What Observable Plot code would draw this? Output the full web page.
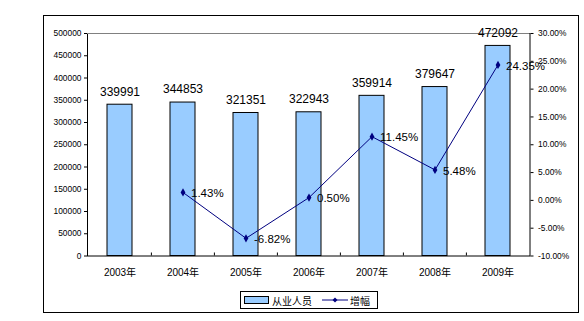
<!DOCTYPE html>
<html>
<head>
<meta charset="utf-8">
<script src="https://cdn.jsdelivr.net/npm/d3@7"></script>
<script src="https://cdn.jsdelivr.net/npm/@observablehq/plot@0.6"></script>
<style>
  html, body { margin: 0; padding: 0; background: #fff; }
  #wrap { position: relative; width: 584px; height: 321px; overflow: hidden; font-family: "Liberation Sans", Arial, "Noto Sans CJK SC", sans-serif; }
  #wrap svg { position: absolute; left: 0; top: 0; }
  #border { position: absolute; left: 43px; top: 15px; width: 534px; height: 296px; border: 1px solid #000; }
  #legend { position: absolute; left: 240px; top: 291px; width: 136px; height: 16px; border: 1px solid #000; display: flex; align-items: center; font-family: "Noto Sans CJK SC", sans-serif; font-size: 10px; color: #000; }
  #legend .sw { width: 23px; height: 6px; background: #99CCFF; border: 1px solid #000; margin-left: 3px; margin-right: 3px; }
  #legend svg { position: static; margin-left: 10px; margin-right: 2px; }
</style>
</head>
<body>
<div id="wrap">
  <div id="border"></div>
  <div id="legend">
    <div class="sw"></div><span>从业人员</span>
    <svg width="26" height="10"><line x1="0" y1="5" x2="26" y2="5" stroke="#000080" stroke-width="1"/><path d="M13,2.5 L15.5,5 L13,7.5 L10.5,5 Z" fill="#000080"/></svg><span>增幅</span>
  </div>
</div>
<script>
const years = ["2003年", "2004年", "2005年", "2006年", "2007年", "2008年", "2009年"];
const employees = [339991, 344853, 321351, 322943, 359914, 379647, 472092];
const growth = [null, 1.43, -6.82, 0.50, 11.45, 5.48, 24.35];
const leftTicks = [0, 50000, 100000, 150000, 200000, 250000, 300000, 350000, 400000, 450000, 500000];
const pctTicks = [-10, -5, 0, 5, 10, 15, 20, 25, 30];

const W = 584, H = 321;
const mL = 87, mR = 54.5, mT = 33, mB = 65.5;
const yMax = 500000;
const pMin = -10, pMax = 30;
const toV = p => (p - pMin) / (pMax - pMin) * yMax;

const bars = years.map((y, i) => ({year: y, v: employees[i]}));
const pts = years.map((y, i) => ({year: y, p: growth[i]})).filter(d => d.p != null)
  .map(d => ({...d, v: toV(d.p)}));

const step = (W - mL - mR) / years.length;
const plotH = H - mT - mB;

const chart = Plot.plot({
  width: W, height: H,
  marginLeft: mL, marginRight: mR, marginTop: mT, marginBottom: mB,
  style: {fontFamily: '"Liberation Sans", Arial, "Noto Sans CJK SC", sans-serif', fontSize: "8.4px", background: "transparent", overflow: "visible"},
  x: {type: "band", domain: years, paddingInner: 0.6, paddingOuter: 0.3},
  y: {domain: [0, yMax]},
  marks: [
    Plot.frame({stroke: "#000"}),
    Plot.ruleY([yMax], {stroke: "#808080"}),
    Plot.barY(bars, {x: "year", y: "v", fill: "#99CCFF", stroke: "#000", strokeWidth: 1}),
    Plot.ruleX(years.slice(1), {x: d => d, dx: -step / 2, insetTop: plotH - 3, stroke: "#000"}),
    Plot.axisY({ticks: leftTicks, tickFormat: d3.format("d"), tickSize: 3, tickPadding: 3, label: null, fontSize: 8.4}),
    Plot.axisY({anchor: "right", ticks: pctTicks.map(toV), tickFormat: (d, i) => pctTicks[i].toFixed(2) + "%", tickSize: 3, tickPadding: 5, label: null, fontSize: 8.4}),
    Plot.axisX({tickSize: 0, tickPadding: 13, label: null, fontSize: 10}),
    Plot.text(bars, {x: "year", y: "v", text: d => String(d.v), dy: -13, fontSize: 12}),
    Plot.line(pts, {x: "year", y: "v", stroke: "#000080", strokeWidth: 1}),
    Plot.dot(pts, {x: "year", y: "v", symbol: "diamond", r: 2.5, fill: "#000080"}),
    Plot.text(pts, {x: "year", y: "v", text: d => d.p.toFixed(2) + "%", textAnchor: "start", dx: 8, dy: 1, fontSize: 11.5})
  ]
});
document.getElementById("wrap").insertBefore(chart, document.getElementById("border"));
</script>
</body>
</html>
